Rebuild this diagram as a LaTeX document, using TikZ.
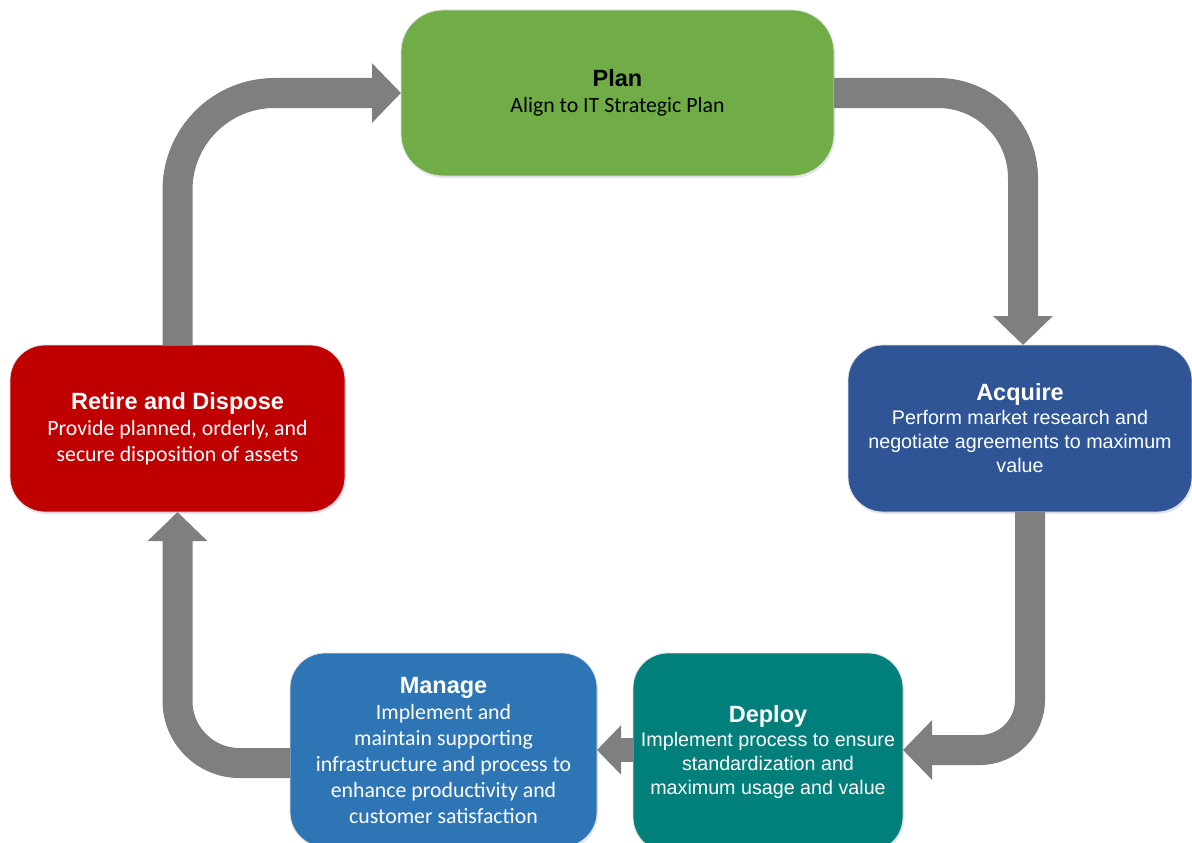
\documentclass[tikz,border=0pt]{standalone}
\usepackage{fontspec}
\setmainfont{Carlito}
\newfontfamily\arialfont{Liberation Sans}
\usetikzlibrary{arrows.meta,shadows}
\definecolor{planGreen}{HTML}{70AD47}
\definecolor{acquireBlue}{HTML}{2F5597}
\definecolor{retireRed}{HTML}{C00000}
\definecolor{manageBlue}{HTML}{2E75B6}
\definecolor{deployTeal}{HTML}{007F7B}
\definecolor{arrowGrey}{HTML}{7F7F7F}
\tikzset{
  % rounded box for each stage of the cycle
  stage/.style={
    draw=black!12, line width=0.8pt, rounded corners=35pt,
    inner sep=0pt, outer sep=0pt, align=center, text=white,
    font=\fontsize{21.8}{26}\selectfont,
    drop shadow={shadow xshift=1pt, shadow yshift=-2pt,
      opacity=0.25, fill=blue!40!black!40},
  },
  % body text in the sans face
  sansbody/.style={font=\arialfont\fontsize{19.7}{24}\selectfont},
  % thick grey arrow between stages
  flow/.style={draw=arrowGrey, line width=30pt,
    -{Triangle[length=29pt,width=58pt]}},
}
\newcommand{\stagetitle}[1]{{\arialfont\bfseries\fontsize{23.5}{26}\selectfont #1}}

\begin{document}
\begin{tikzpicture}[x=1pt,y=-1pt]
\useasboundingbox (0,0) rectangle (1192,843);
\node[stage, fill=planGreen, text=black, rounded corners=42pt,
  minimum width=433pt, minimum height=166pt] (plan) at (617.5,93)
  {\stagetitle{Plan}\\Align to IT Strategic Plan};
\node[stage, fill=acquireBlue, sansbody,
  minimum width=344pt, minimum height=167pt] (acquire) at (1020,428.5)
  {\stagetitle{Acquire}\\Perform market research and\\negotiate agreements to maximum\\value};
\node[stage, fill=deployTeal, sansbody,
  minimum width=270pt, minimum height=199pt] (deploy) at (768,752.5)
  {\stagetitle{Deploy}\\Implement process to ensure\\standardization and\\maximum usage and value};
\node[stage, fill=manageBlue,
  minimum width=307pt, minimum height=194pt] (manage) at (443.5,750)
  {\stagetitle{Manage}\\Implement and\\maintain supporting\\infrastructure and process to\\enhance productivity and\\customer satisfaction};
\node[stage, fill=retireRed,
  minimum width=335pt, minimum height=167pt] (retire) at (177.5,428.5)
  {\stagetitle{Retire and Dispose}\\Provide planned, orderly, and\\secure disposition of assets};
% connectors round the cycle
\draw[flow, rounded corners=97pt] (retire.north) |- (plan.west);
\draw[flow, rounded corners=85pt] (plan.east) -| ([xshift=3pt]acquire.north);
\draw[flow, rounded corners=50pt] ([xshift=10pt]acquire.south) |- ([yshift=2.5pt]deploy.east);
\draw[flow, line width=24pt, -{Triangle[length=24pt,width=48pt]}] ([yshift=2.5pt]deploy.west) -- (manage.east);
\draw[flow, rounded corners=62pt] ([yshift=-13pt]manage.west) -| (retire.south);
\end{tikzpicture}
\end{document}
